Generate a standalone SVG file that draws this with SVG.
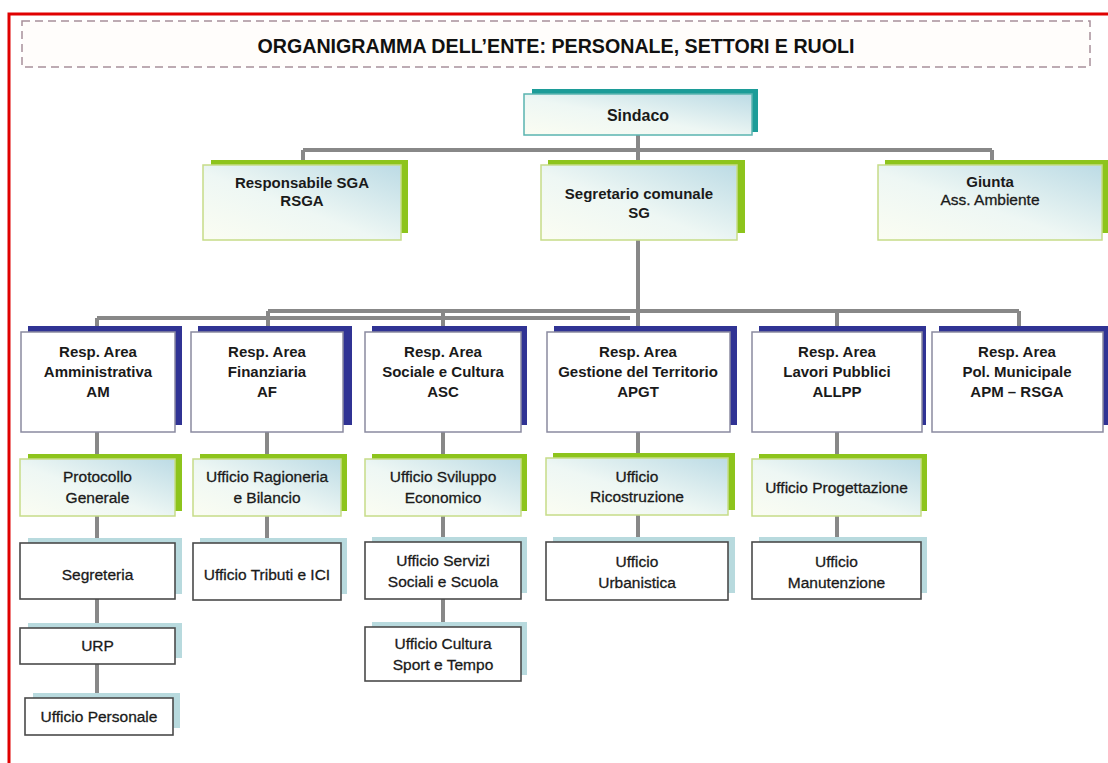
<svg xmlns="http://www.w3.org/2000/svg" width="1108" height="763" viewBox="0 0 1108 763">
<defs>
<linearGradient id="gr" x1="0" y1="1" x2="1" y2="0">
<stop offset="0" stop-color="#fbfdf2"/>
<stop offset="0.45" stop-color="#eef7f4"/>
<stop offset="1" stop-color="#bcdbe5"/>
</linearGradient>
<style>
.t{font-family:"Liberation Sans",Arial,sans-serif;font-size:15px;font-weight:bold;fill:#1a1a1a;text-anchor:middle}
.r{font-family:"Liberation Sans",Arial,sans-serif;font-size:15.5px;fill:#1a1a1a;stroke:#1a1a1a;stroke-width:0.3;text-anchor:middle}
.shT{fill:#1c9c98}
.shG{fill:#8dc41c}
.shB{fill:#303394}
.shL{fill:#b8dade}
.mT{fill:url(#gr);stroke:#5ab4b0;stroke-width:1.5}
.mG{fill:url(#gr);stroke:#c6dc88;stroke-width:1.5}
.mB{fill:#ffffff;stroke:#8a8aa0;stroke-width:1.5}
.mW{fill:#ffffff;stroke:#4a4a4a;stroke-width:1.6}
.c{fill:none;stroke:#888;stroke-width:4}
</style>
</defs>
<rect width="1108" height="763" fill="#ffffff"/>
<path d="M9,763 V14 H1108" fill="none" stroke="#e00000" stroke-width="3"/>
<g id="title">
<rect x="22" y="21" width="1068" height="46" fill="#fffdfb" stroke="#a8909a" stroke-width="1.5" stroke-dasharray="8 5"/>
<text x="556" y="53" style="font-family:'Liberation Sans',Arial,sans-serif;font-size:20.5px;font-weight:bold;fill:#111;text-anchor:middle" textLength="597" lengthAdjust="spacingAndGlyphs">ORGANIGRAMMA DELL’ENTE: PERSONALE, SETTORI E RUOLI</text>
</g>
<g id="connectors">
<path class="c" d="M638,135 V165 M638,240 V332 M303,150 H992 M303,150 V165 M992,150 V165"/>
<path class="c" d="M268,311 H1019 M97,318 H630 M97,318 V332 M268,311 V332 M443,311 V332 M837,311 V332 M1019,311 V332"/>
<path class="c" d="M97,432 V698 M267,432 V543 M443,432 V627 M638,432 V542 M837,432 V542"/>
</g>
<g id="sindaco">
<rect class="shT" x="532" y="89" width="226" height="43"/>
<rect class="mT" x="524" y="94" width="228" height="41"/>
<text class="t" x="638" y="121" style="font-size:16px">Sindaco</text>
</g>
<g id="rsga">
<rect class="shG" x="211" y="160" width="197" height="73"/>
<rect class="mG" x="203" y="165" width="198" height="75"/>
<text class="t" x="302" y="188">Responsabile SGA</text>
<text class="t" x="302" y="206">RSGA</text>
</g>
<g id="sg">
<rect class="shG" x="548" y="160" width="197" height="73"/>
<rect class="mG" x="541" y="165" width="196" height="75"/>
<text class="t" x="639" y="199">Segretario comunale</text>
<text class="t" x="639" y="218">SG</text>
</g>
<g id="giunta">
<rect class="shG" x="885" y="160" width="224" height="73"/>
<rect class="mG" x="878" y="165" width="224" height="75"/>
<text class="t" x="990" y="187">Giunta</text>
<text class="r" x="990" y="205">Ass. Ambiente</text>
</g>
<g id="am">
<rect class="shB" x="28" y="326" width="154" height="99"/>
<rect class="mB" x="21" y="332" width="154" height="100"/>
<text class="t" x="98" y="357">Resp. Area</text>
<text class="t" x="98" y="377">Amministrativa</text>
<text class="t" x="98" y="397">AM</text>
</g>
<g id="af">
<rect class="shB" x="198" y="326" width="154" height="99"/>
<rect class="mB" x="191" y="332" width="152" height="100"/>
<text class="t" x="267" y="357">Resp. Area</text>
<text class="t" x="267" y="377">Finanziaria</text>
<text class="t" x="267" y="397">AF</text>
</g>
<g id="asc">
<rect class="shB" x="372" y="326" width="155" height="99"/>
<rect class="mB" x="365" y="332" width="156" height="100"/>
<text class="t" x="443" y="357">Resp. Area</text>
<text class="t" x="443" y="377">Sociale e Cultura</text>
<text class="t" x="443" y="397">ASC</text>
</g>
<g id="apgt">
<rect class="shB" x="554" y="326" width="183" height="99"/>
<rect class="mB" x="547" y="332" width="183" height="100"/>
<text class="t" x="638" y="357">Resp. Area</text>
<text class="t" x="638" y="377">Gestione del Territorio</text>
<text class="t" x="638" y="397">APGT</text>
</g>
<g id="allpp">
<rect class="shB" x="759" y="326" width="167" height="99"/>
<rect class="mB" x="752" y="332" width="170" height="100"/>
<text class="t" x="837" y="357">Resp. Area</text>
<text class="t" x="837" y="377">Lavori Pubblici</text>
<text class="t" x="837" y="397">ALLPP</text>
</g>
<g id="apm">
<rect class="shB" x="939" y="326" width="171" height="99"/>
<rect class="mB" x="932" y="332" width="171" height="100"/>
<text class="t" x="1017" y="357">Resp. Area</text>
<text class="t" x="1017" y="377">Pol. Municipale</text>
<text class="t" x="1017" y="397">APM – RSGA</text>
</g>
<g id="protocollo">
<rect class="shG" x="28" y="454" width="154" height="57"/>
<rect class="mG" x="20" y="459" width="155" height="57"/>
<text class="r" x="97.5" y="482">Protocollo</text>
<text class="r" x="97.5" y="503">Generale</text>
</g>
<g id="ragioneria">
<rect class="shG" x="200" y="454" width="147" height="57"/>
<rect class="mG" x="193" y="459" width="148" height="57"/>
<text class="r" x="267" y="482">Ufficio Ragioneria</text>
<text class="r" x="267" y="503">e Bilancio</text>
</g>
<g id="sviluppo">
<rect class="shG" x="372" y="454" width="155" height="57"/>
<rect class="mG" x="365" y="459" width="156" height="57"/>
<text class="r" x="443" y="482">Ufficio Sviluppo</text>
<text class="r" x="443" y="503">Economico</text>
</g>
<g id="ricostruzione">
<rect class="shG" x="553" y="453" width="182" height="57"/>
<rect class="mG" x="546" y="458" width="182" height="57"/>
<text class="r" x="637" y="482">Ufficio</text>
<text class="r" x="637" y="502">Ricostruzione</text>
</g>
<g id="progettazione">
<rect class="shG" x="759" y="454" width="168" height="57"/>
<rect class="mG" x="752" y="459" width="169" height="57"/>
<text class="r" x="836.5" y="493">Ufficio Progettazione</text>
</g>
<g id="segreteria">
<rect class="shL" x="28" y="538" width="154" height="56"/>
<rect class="mW" x="20" y="543" width="155" height="56"/>
<text class="r" x="97.5" y="580">Segreteria</text>
</g>
<g id="tributi">
<rect class="shL" x="200" y="538" width="147" height="56"/>
<rect class="mW" x="193" y="543" width="148" height="57"/>
<text class="r" x="267" y="580">Ufficio Tributi e ICI</text>
</g>
<g id="servizi">
<rect class="shL" x="372" y="537" width="155" height="56"/>
<rect class="mW" x="365" y="542" width="156" height="57"/>
<text class="r" x="443" y="566">Ufficio Servizi</text>
<text class="r" x="443" y="587">Sociali e Scuola</text>
</g>
<g id="urbanistica">
<rect class="shL" x="553" y="537" width="182" height="56"/>
<rect class="mW" x="546" y="542" width="182" height="58"/>
<text class="r" x="637" y="567">Ufficio</text>
<text class="r" x="637" y="588">Urbanistica</text>
</g>
<g id="manutenzione">
<rect class="shL" x="759" y="537" width="168" height="56"/>
<rect class="mW" x="752" y="542" width="169" height="57"/>
<text class="r" x="836.5" y="567">Ufficio</text>
<text class="r" x="836.5" y="588">Manutenzione</text>
</g>
<g id="urp">
<rect class="shL" x="28" y="623" width="154" height="35"/>
<rect class="mW" x="20" y="628" width="155" height="36"/>
<text class="r" x="97.5" y="651">URP</text>
</g>
<g id="cultura">
<rect class="shL" x="372" y="622" width="155" height="53"/>
<rect class="mW" x="365" y="627" width="156" height="54"/>
<text class="r" x="443" y="649">Ufficio Cultura</text>
<text class="r" x="443" y="670">Sport e Tempo</text>
</g>
<g id="personale">
<rect class="shL" x="33" y="693" width="147" height="35"/>
<rect class="mW" x="25" y="698" width="148" height="37"/>
<text class="r" x="99" y="722">Ufficio Personale</text>
</g>
</svg>
